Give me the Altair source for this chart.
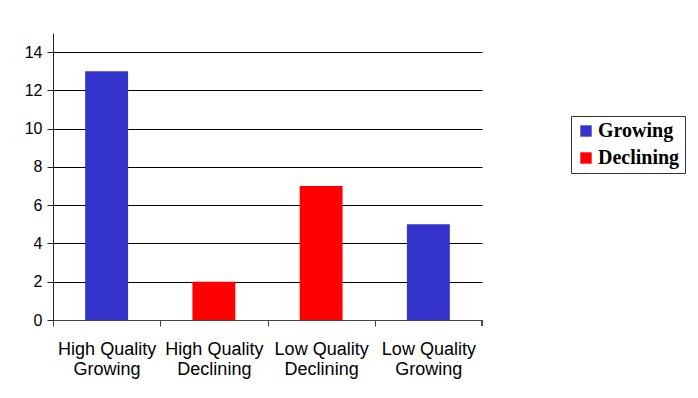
import altair as alt
import pandas as pd

# Bar categories, counts and the trend each bar belongs to
categories = [
    "High Quality Growing",
    "High Quality Declining",
    "Low Quality Declining",
    "Low Quality Growing",
]
counts = [13, 2, 7, 5]
trend = ["Growing", "Declining", "Declining", "Growing"]

legend_order = ["Growing", "Declining"]
legend_colors = ["#3333CC", "#FF0000"]
y_ticks = [0, 2, 4, 6, 8, 10, 12, 14]

df = pd.DataFrame({"category": categories, "count": counts, "trend": trend})

W, H = 429, 287
half_step = W / len(categories) / 2
axis_grey = "#444444"

bars = alt.Chart(df).mark_bar().encode(
    x=alt.X(
        "category:N",
        sort=None,
        scale=alt.Scale(paddingInner=0.6, paddingOuter=0.3),
        axis=alt.Axis(
            title=None,
            labelAngle=0,
            # ticks sit on the band boundaries, labels stay centred
            tickOffset=-half_step,
            labelOffset=half_step,
            tickSize=6,
            tickColor=axis_grey,
            domainColor=axis_grey,
            labelFont="Liberation Sans",
            labelFontSize=18,
            labelColor="#000000",
            labelPadding=14,
            labelLineHeight=20,
            labelBaseline="top",
            labelExpr=(
                "[slice(datum.label, 0, lastindexof(datum.label, ' ')),"
                " slice(datum.label, lastindexof(datum.label, ' ') + 1)]"
            ),
        ),
    ),
    y=alt.Y(
        "count:Q",
        scale=alt.Scale(domain=[0, 15], nice=False),
        axis=alt.Axis(
            title=None,
            values=y_ticks,
            grid=True,
            gridColor="#000000",
            gridOpacity=1,
            gridWidth=1,
            tickSize=6,
            tickColor="#222222",
            domainColor="#222222",
            labelFont="Liberation Sans",
            labelFontSize=16,
            labelColor="#000000",
            labelPadding=5,
        ),
    ),
    color=alt.Color(
        "trend:N",
        scale=alt.Scale(domain=legend_order, range=legend_colors),
        legend=alt.Legend(
            title=None,
            orient="none",
            legendX=518,
            legendY=83,
            symbolType="square",
            symbolSize=130,
            symbolStrokeWidth=0,
            labelFont="Liberation Serif",
            labelFontWeight="bold",
            labelFontSize=20,
            labelColor="#000000",
            labelOffset=2,
            rowPadding=7,
            padding=5,
            strokeColor="#333333",
            fillColor="#FFFFFF",
        ),
    ),
)

# closing tick at the right end of the category axis
end_tick = alt.Chart(df).mark_rule(color=axis_grey).encode(
    x=alt.value(W), y=alt.value(H), y2=alt.value(H + 6)
)

chart = alt.layer(bars, end_tick).properties(
    width=W,
    height=H,
    autosize=alt.AutoSizeParams(type="none"),
    padding={"left": 53, "top": 33, "right": 698 - 53 - W, "bottom": 398 - 33 - H},
    background="#FFFFFF",
).configure_view(stroke=None)

chart.save("out.html", embed_options={"renderer": "svg", "actions": False})
